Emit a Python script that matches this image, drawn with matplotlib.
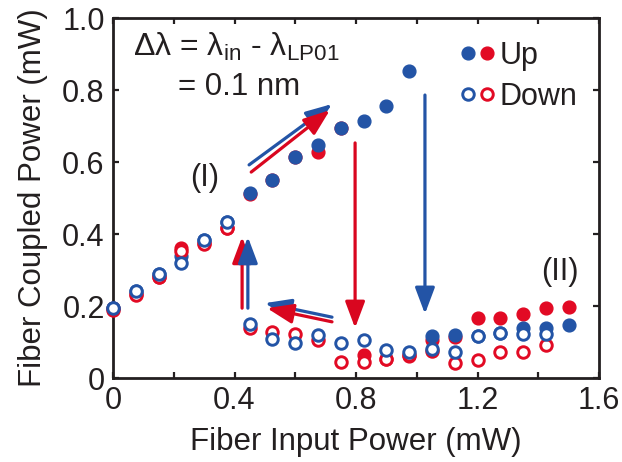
import numpy as np
import matplotlib
matplotlib.use("Agg")
import matplotlib.pyplot as plt
from matplotlib.legend_handler import HandlerTuple

plt.rcParams['font.family'] = ['Liberation Sans', 'DejaVu Sans']
plt.rcParams['mathtext.fontset'] = 'custom'
plt.rcParams['mathtext.rm'] = 'Liberation Sans'
plt.rcParams['mathtext.it'] = 'Liberation Sans:italic'

# ---- data ----
input_power = [0, 0.075, 0.15, 0.225, 0.30, 0.375, 0.45, 0.525, 0.60, 0.675, 0.75,
               0.825, 0.90, 0.975, 1.05, 1.125, 1.20, 1.275, 1.35, 1.425, 1.50]
up_blue = [0.195, 0.242, 0.29, 0.34, 0.383, 0.433, 0.514, 0.55, 0.614, 0.647, 0.694,
           0.714, 0.756, 0.853, 0.116, 0.12, 0.117, 0.125, 0.139, 0.139, 0.147]
up_red = [0.195, 0.232, 0.28, 0.36, 0.375, 0.417, 0.512, 0.55, 0.614, 0.628, 0.694,
          0.064, 0.053, 0.06, 0.106, 0.115, 0.167, 0.167, 0.178, 0.194, 0.197]
down_blue = [0.195, 0.242, 0.29, 0.32, 0.383, 0.433, 0.15, 0.108, 0.097, 0.12, 0.097,
             0.105, 0.078, 0.072, 0.08, 0.072, 0.117, 0.125, 0.122, 0.122, np.nan]
down_red = [0.19, 0.23, 0.28, 0.352, 0.372, 0.417, 0.139, 0.128, 0.122, 0.106, 0.044,
            0.044, 0.053, 0.064, 0.075, 0.042, 0.05, 0.072, 0.072, 0.092, np.nan]

x_ticks = [0, 0.4, 0.8, 1.2, 1.6]
x_ticklabels = ['0', '0.4', '0.8', '1.2', '1.6']
y_ticks = [0, 0.2, 0.4, 0.6, 0.8, 1.0]
y_ticklabels = ['0', '0.2', '0.4', '0.6', '0.8', '1.0']

BLUE = '#2354A6'
RED = '#E20A24'
RED_ARROW = '#D9061F'
TXT = '#231F20'

fig = plt.figure(figsize=(6.22, 4.62), dpi=100)
ax = fig.add_axes([113/622, 1-378/462, 486/622, 360/462])

ms = 9.2
mew = 2.1
h_ru, = ax.plot(input_power, up_red, 'o', color=RED, ms=ms, mec=RED, zorder=2, clip_on=False)
h_bu, = ax.plot(input_power, up_blue, 'o', color=BLUE, ms=ms, mec=BLUE, zorder=3, clip_on=False)
h_rd, = ax.plot(input_power, down_red, 'o', mfc='white', mec=RED, ms=ms-0.9, mew=mew, zorder=4, clip_on=False)
h_bd, = ax.plot(input_power, down_blue, 'o', mfc='white', mec=BLUE, ms=ms-0.9, mew=mew, zorder=5, clip_on=False)

ax.set_xlim(0, 1.6)
ax.set_ylim(0, 1.0)
ax.set_xticks(x_ticks)
ax.set_xticklabels(x_ticklabels)
ax.set_xticks([0.2, 0.6, 1.0, 1.4], minor=True)
ax.set_yticks(y_ticks)
ax.set_yticklabels(y_ticklabels)

for s in ax.spines.values():
    s.set_linewidth(2.0)
    s.set_color(TXT)
ax.tick_params(which='both', direction='in', top=True, right=True, length=4,
               width=1.6, color=TXT, labelsize=22, labelcolor=TXT, pad=6)

ax.set_xlabel('Fiber Input Power (mW)', fontsize=22.5, color=TXT, labelpad=8)
ax.set_ylabel('Fiber Coupled Power (mW)', fontsize=22.5, color=TXT, labelpad=10)

# annotation text
ax.text(0.066, 0.919, r'Δλ = λ$_{\mathrm{in}}$ - λ$_{\mathrm{LP01}}$', fontsize=23,
        color=TXT, ha='left', va='center')
ax.text(0.214, 0.808, '= 0.1 nm', fontsize=22.5, color=TXT, ha='left', va='center')
ax.text(0.303, 0.556, '(I)', fontsize=22, color=TXT, ha='center', va='center')
ax.text(1.472, 0.294, '(II)', fontsize=22, color=TXT, ha='center', va='center')

def arrow(x0, y0, x1, y1, color, hl=16, hw=6):
    ax.annotate('', xy=(x1, y1), xytext=(x0, y0),
                arrowprops=dict(arrowstyle='-|>,head_length=%g,head_width=%g' % (hl/10, hw/10),
                                mutation_scale=10, color=color, lw=2.3,
                                shrinkA=0, shrinkB=0), zorder=6)

# diagonal up arrows
arrow(0.448, 0.592, 0.721, 0.761, BLUE)
arrow(0.455, 0.572, 0.714, 0.744, RED_ARROW)
# down arrows
arrow(0.797, 0.653, 0.797, 0.139, RED_ARROW)
arrow(1.027, 0.786, 1.027, 0.178, BLUE)
# up arrows
arrow(0.425, 0.194, 0.425, 0.392, RED_ARROW)
arrow(0.444, 0.194, 0.444, 0.392, BLUE)
# left arrows
arrow(0.721, 0.169, 0.500, 0.208, BLUE)
arrow(0.721, 0.156, 0.507, 0.194, RED_ARROW)

leg = ax.legend([(h_bu, h_ru), (h_bd, h_rd)], ['Up', 'Down'],
                handler_map={tuple: HandlerTuple(ndivide=None, pad=0)},
                loc='upper left', bbox_to_anchor=(0.667, 0.995), frameon=False,
                fontsize=22, handlelength=1.24, handletextpad=0.1, labelspacing=0.35,
                borderpad=0.2, labelcolor=TXT)

fig.savefig('out.png', dpi=100)
